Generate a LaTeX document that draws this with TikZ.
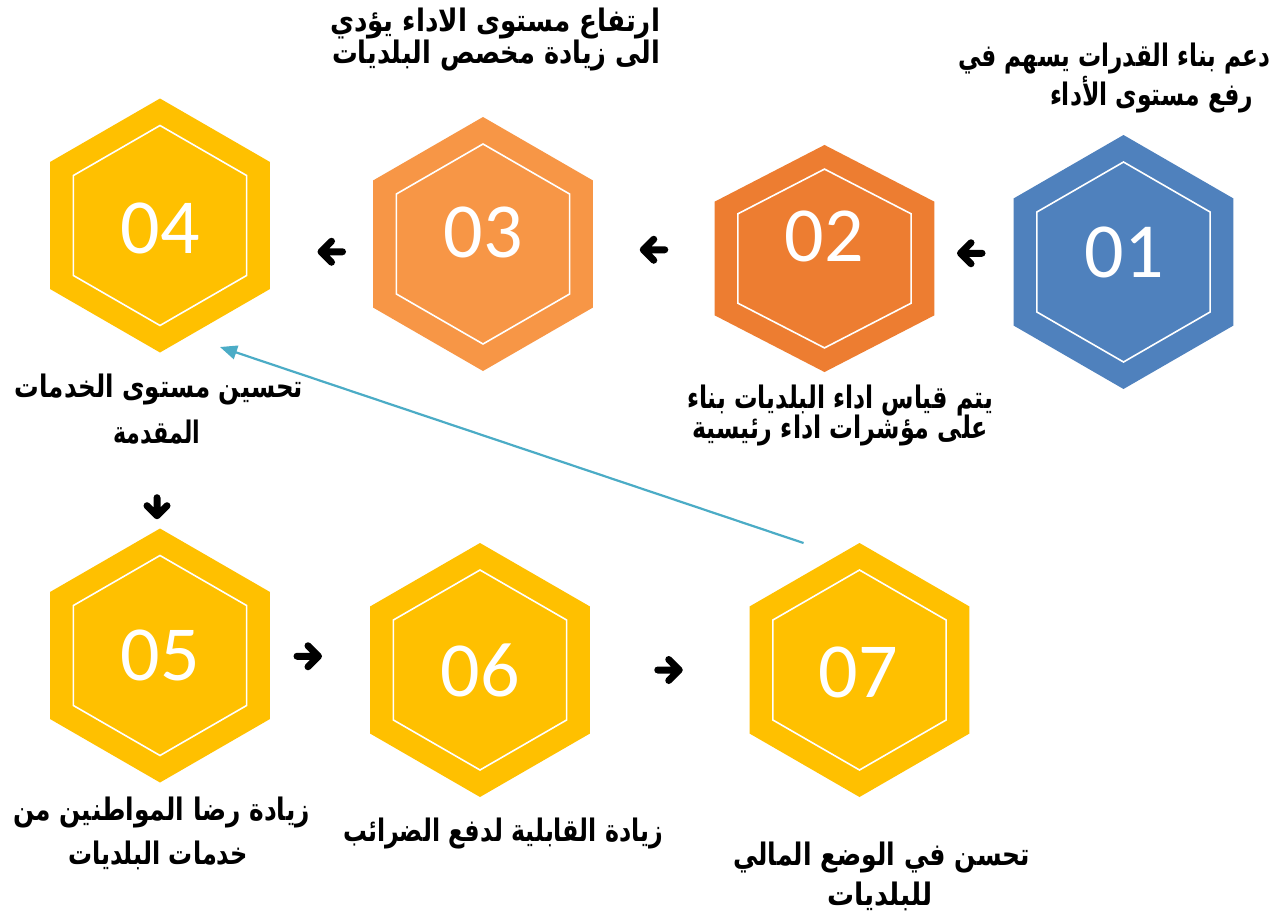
\documentclass[tikz,border=0pt]{standalone}
\usepackage{fontspec}
\setmainfont{Carlito}
\newfontfamily\arabicfont[Script=Arabic]{DejaVu Sans}
\TeXXeTstate=1
\usetikzlibrary{shapes.geometric,arrows.meta,calc}
\definecolor{hblue}{HTML}{4F81BD}
\definecolor{horange}{HTML}{ED7D31}
\definecolor{hlorange}{HTML}{F79646}
\definecolor{hgold}{HTML}{FFC000}
\definecolor{cyanline}{HTML}{4BACC6}
\newsavebox\fitbox
\newcommand\fitline[2]{\sbox\fitbox{#2}%
  \pgfmathsetmacro\fitfac{#1/\the\wd\fitbox}%
  \scalebox{\fitfac}[1]{\usebox\fitbox}}
\tikzset{
  hexo/.style={regular polygon, regular polygon sides=6, shape border rotate=30,
    minimum size=254pt, inner sep=0pt, outer sep=0pt, draw=none},
  hexi/.style={regular polygon, regular polygon sides=6, shape border rotate=30,
    minimum size=200pt, inner sep=0pt, outer sep=0pt, draw=white, line width=1.6pt},
  num/.style={text=white, inner sep=0pt, font=\fontsize{78}{80}\selectfont},
  lbl/.style={inner sep=0pt, font=\arabicfont\bfseries\fontsize{31}{36}\selectfont},
  larrow/.pic={\draw[line width=7pt, line cap=round, line join=round]
     (11,0) -- (-10.5,0) (0,-10.5) -- (-10.5,0) -- (0,10.5);},
  darrow/.pic={\draw[line width=7pt, line cap=round, line join=round]
     (0,-9) -- (0,9) (-10,-1) -- (0,9) -- (10,-1);},
  blueconn/.style={draw=cyanline, line width=2.2pt, -{Triangle[length=17pt,width=14pt]}}
}
\begin{document}
\begin{tikzpicture}[x=1pt,y=-1pt]
\fill[white] (0,0) rectangle (1286,916);
\useasboundingbox (0,0) rectangle (1286,916);
% hexagons
\node[hexo, fill=hblue]    (h1) at (1123.5,262) {};
\begin{scope}[shift={(824.5,258.5)}, yscale=0.894]
  \node[hexo, fill=horange, transform shape] (h2) at (0,0) {};
  \node[hexi, transform shape] (i2) at (0,0) {};
\end{scope}
\node[hexo, fill=hlorange] (h3) at (483,244) {};
\node[hexo, fill=hgold]    (h4) at (160,225.5) {};
\node[hexo, fill=hgold]    (h5) at (160,655.5) {};
\node[hexo, fill=hgold]    (h6) at (480,670) {};
\node[hexo, fill=hgold]    (h7) at (859.5,670) {};
\foreach \i in {1,3,4,5,6,7} {\node[hexi] (i\i) at (h\i.center) {};}
% numbers
\node[num] (n1) at (1124,252) {01};
\node[num] (n2) at (824,236) {02};
\node[num] (n3) at (483,232) {03};
\node[num] (n4) at (160,228) {04};
\node[num] (n5) at (160,655) {05};
\node[num] (n6) at (480,670) {06};
\node[num] (n7) at (858,672) {07};
% labels
\node[lbl] (l1a) at (1114,59)   {\fitline{312}{\beginR دعم بناء القدرات يسهم في\endR}};
\node[lbl] (l1b) at (1151.5,95) {\fitline{203}{\beginR رفع مستوى الأداء\endR}};
\node[lbl] (l3a) at (495,24)    {\fitline{330}{\beginR ارتفاع مستوى الاداء يؤدي\endR}};
\node[lbl] (l3b) at (496,56)    {\fitline{328}{\beginR الى زيادة مخصص البلديات\endR}};
\node[lbl] (l2a) at (840,401)   {\fitline{306}{\beginR يتم قياس اداء البلديات بناء\endR}};
\node[lbl] (l2b) at (840,431)   {\fitline{296}{\beginR على مؤشرات اداء رئيسية\endR}};
\node[lbl] (l4a) at (159,390)   {\fitline{288}{\beginR تحسين مستوى الخدمات\endR}};
\node[lbl] (l4b) at (156.5,432) {\fitline{87}{\beginR المقدمة\endR}};
\node[lbl] (l5a) at (161.5,812) {\fitline{297}{\beginR زيادة رضا المواطنين من\endR}};
\node[lbl] (l5b) at (158,855)   {\fitline{180}{\beginR خدمات البلديات\endR}};
\node[lbl] (l6)  at (503,833)   {\fitline{320}{\beginR زيادة القابلية لدفع الضرائب\endR}};
\node[lbl] (l7a) at (881.5,857) {\fitline{297}{\beginR تحسن في الوضع المالي\endR}};
\node[lbl] (l7b) at (880,896)   {\fitline{106}{\beginR للبلديات\endR}};
% small black arrows
\coordinate (a12) at ($(h1.center)!0.5!(h2.center)+(-3,-7)$);
\coordinate (a23) at ($(h2.center)!0.5!(h3.center)+(0,-1.5)$);
\coordinate (a34) at ($(h3.center)!0.5!(h4.center)+(10,17)$);
\coordinate (a45) at ($(h4.center)!0.6540!(h5.center)+(-3,0)$);
\coordinate (a56) at ($(h5.center)!0.5!(h6.center)+(-12,-6.5)$);
\coordinate (a67) at ($(h6.center)!0.5!(h7.center)+(-1,0)$);
\pic at (a12) {larrow};
\pic at (a23) {larrow};
\pic at (a34) {larrow};
\pic at (a45) {darrow};
\pic[xscale=-1] at (a56) {larrow};
\pic[xscale=-1] at (a67) {larrow};
% long blue connector
\coordinate (bt) at ($(h7.center)+(-56,-127)$);
\coordinate (bh) at ($(h4.center)+(60,121.5)$);
\draw[blueconn] (bt) -- (bh);
\end{tikzpicture}
\end{document}
